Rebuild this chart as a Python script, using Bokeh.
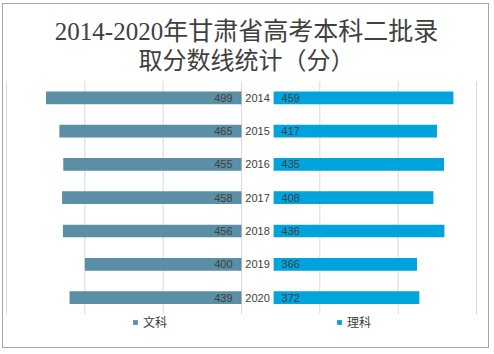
from bokeh.plotting import figure
from bokeh.models import (ColumnDataSource, Range1d, Legend, LegendItem, Label)
from bokeh.embed import file_html
from bokeh.resources import INLINE
import numpy as np

years = ["2014", "2015", "2016", "2017", "2018", "2019", "2020"]
wenke = [499, 465, 455, 458, 456, 400, 439]   # 文科
like = [459, 417, 435, 408, 436, 366, 372]    # 理科
grid_ticks = [-600, -400, -200, 0, 200, 400, 600]
title_lines = ["2014-2020年甘肃省高考本科二批录", "取分数线统计（分）"]

GAP = 82  # blank space (axis units) for the year labels

n = len(years)
pos = np.arange(n)          # category slots, 2014 on top
wk = np.array(wenke)
lk = np.array(like)
src = ColumnDataSource(dict(
    pos=pos, year=years,
    wk_left=-wk, wk_right=np.zeros_like(wk),
    lk_left=np.full_like(lk, GAP), lk_right=lk + GAP,
    wk_txt=[str(v) for v in wenke], lk_txt=[str(v) for v in like],
    zero=np.zeros(n), gapx=np.full(n, GAP), midx=np.full(n, GAP / 2),
))
gsrc = ColumnDataSource(dict(x=grid_ticks,
                             y0=np.full(len(grid_ticks), -0.5),
                             y1=np.full(len(grid_ticks), n - 0.5)))

W, H = 487, 345
PX_X = 0.3917     # pixels per score point
PX_Y = 33.3       # pixels per category slot
X0_PX = 238       # canvas x of score 0
Y0_PX = 93.3      # canvas y of first slot centre
p = figure(width=W, height=H, output_backend="svg", toolbar_location=None,
           x_range=Range1d(-X0_PX / PX_X, (W - X0_PX) / PX_X),
           y_range=Range1d((H - Y0_PX) / PX_Y, -Y0_PX / PX_Y),
           x_axis_location=None, y_axis_location=None,
           min_border=0)
p.styles = {"margin-left": "2px", "margin-top": "3px",
            "border": "1px solid #a6a6a6"}
p.outline_line_color = None
p.background_fill_color = "white"
p.border_fill_color = "white"
p.xgrid.visible = False
p.ygrid.visible = False

p.segment(x0="x", x1="x", y0="y0", y1="y1", source=gsrc,
          line_color="#d9d9d9", line_width=1)

r_wk = p.hbar(y="pos", left="wk_left", right="wk_right", height=0.38,
              source=src, fill_color="#5B8FA6", line_color=None)
r_lk = p.hbar(y="pos", left="lk_left", right="lk_right", height=0.38,
              source=src, fill_color="#00A3DB", line_color=None)

num_font = "Liberation Sans"
p.text(x="zero", y="pos", text="wk_txt", source=src, x_offset=-9,
       text_align="right", text_baseline="middle", text_font_size="11px",
       text_color="#404040", text_font={"value": num_font})
p.text(x="gapx", y="pos", text="lk_txt", source=src, x_offset=8,
       text_align="left", text_baseline="middle", text_font_size="11px",
       text_color="#404040", text_font={"value": num_font})
p.text(x="midx", y="pos", text="year", source=src,
       text_align="center", text_baseline="middle", text_font_size="11px",
       text_color="#404040", text_font={"value": num_font})

title_font = "Liberation Serif, 'Noto Sans CJK SC'"
for txt, cy, fs in [(title_lines[0], 27, "25px"), (title_lines[1], 56, "24px")]:
    p.add_layout(Label(x=243, y=H - cy, x_units="screen", y_units="screen",
                       text=txt, text_align="center", text_baseline="middle",
                       text_font=title_font, text_font_size=fs,
                       text_color="#404040"))

for lab, rend, xloc in [("文科", r_wk, 129), ("理科", r_lk, 333)]:
    lg = Legend(items=[LegendItem(label=lab, renderers=[rend])],
                location=(xloc, 19), orientation="horizontal",
                glyph_width=6, glyph_height=6, label_standoff=5,
                label_height=14, padding=0, margin=0, spacing=0,
                label_text_font="Noto Sans CJK SC", label_text_font_size="12px",
                label_text_color="#404040",
                border_line_color=None, background_fill_alpha=0)
    p.add_layout(lg, "center")

open("out.html", "w").write(file_html(p, INLINE))
